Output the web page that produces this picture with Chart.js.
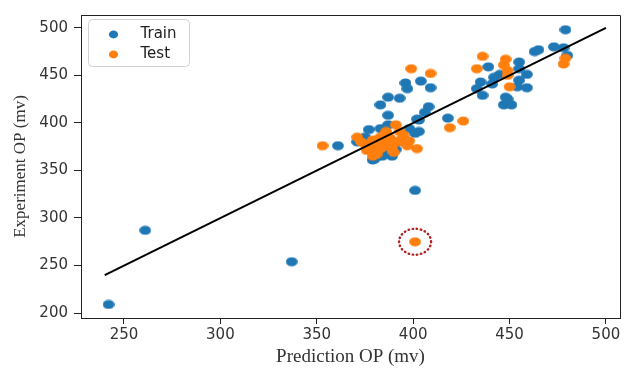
<!DOCTYPE html>
<html><head><meta charset="utf-8">
<script src="https://cdn.jsdelivr.net/npm/chart.js@4/dist/chart.umd.min.js"></script>
<style>html,body{margin:0;padding:0;background:#fff}#wrap{width:626px;height:369px;position:relative}</style>
</head><body><div id="wrap"><canvas id="c"></canvas></div>
<script>
// ---- data ----
const seriesNames = ['Train', 'Test'];
const trainX = [242,261,337,401,361,396,397,387,393,383,404,409,408,406,418,403,402,387,377,383,387,398,401,371,379,384,391,395,380,389,403,379,384,375,390,386,381,
                479,473,463,465,478,480,455,439,455,445,459,442,435,441,455,433,436,454,459,448,447,451,449];
const trainY = [209,287,254,329,376,442,436,427,426,419,444,437,417,411,405,403,404,408,393,394,398,394,389,380,370,370,372,380,362,365,391,361,365,385,378,383,376,
                498,480,475,477,479,471,464,459,457,451,451,448,443,441,445,436,429,438,437,427,419,419,425];
const testX = [353,371,373,377,379,382,385,388,389,392,395,397,391,402,379,381,393,386,375,
               401,399,409,419,426,436,433,448,447,449,449,450,479,478,
               383,387,380,394,398,376,390,384];
const testY = [376,385,380,375,382,372,378,384,374,380,387,376,398,373,365,367,391,391,378,
               275,457,452,395,402,470,457,467,461,455,450,438,468,462,
               385,380,378,383,381,371,369,374];
const highlightIndex = 19;            // circled Test point
const refLine = [240, 500];           // y = x reference line ends
const xTicks = [250, 300, 350, 400, 450, 500];
const yTicks = [200, 250, 300, 350, 400, 450, 500];
const xTitle = 'Prediction OP (mv)';
const yTitle = 'Experiment OP (mv)';

// ---- styles ----
const BLUE = '#1f77b4', ORANGE = '#ff7f0e', AXIS = '#222', TXT = '#333';
function dot(color) {
  const c = document.createElement('canvas');
  c.width = 12; c.height = 10;
  const g = c.getContext('2d');
  g.fillStyle = color;
  g.beginPath(); g.ellipse(6, 5, 5.9, 4.6, 0, 0, Math.PI * 2); g.fill();
  return c;
}
const blueDot = dot(BLUE), orangeDot = dot(ORANGE);

const toPts = (xs, ys) => xs.map((x, i) => ({x, y: ys[i]}));

const framePlugin = {
  id: 'frame',
  beforeDatasetsDraw(chart) {
    const {ctx, chartArea: a} = chart;
    ctx.save();
    ctx.strokeStyle = AXIS; ctx.lineWidth = 1;
    ctx.beginPath();
    ctx.moveTo(Math.round(a.left) + 0.5, Math.round(a.top) + 0.5);
    ctx.lineTo(Math.round(a.right) + 0.5, Math.round(a.top) + 0.5);
    ctx.lineTo(Math.round(a.right) + 0.5, Math.round(a.bottom) + 0.5);
    ctx.stroke();
    ctx.restore();
  }
};
const highlightPlugin = {
  id: 'highlight',
  afterDatasetsDraw(chart) {
    const {ctx, scales} = chart;
    const cx = scales.x.getPixelForValue(testX[highlightIndex]);
    const cy = scales.y.getPixelForValue(testY[highlightIndex]);
    ctx.save();
    ctx.strokeStyle = '#b22222'; ctx.lineWidth = 2.4; ctx.lineCap = 'round';
    ctx.setLineDash([0.5, 3.6]);
    ctx.beginPath(); ctx.ellipse(cx, cy, 16, 13, 0, 0, Math.PI * 2); ctx.stroke();
    ctx.restore();
  }
};
const legendPlugin = {
  id: 'boxLegend',
  afterDraw(chart) {
    const {ctx, chartArea: a} = chart;
    const x0 = a.left + 7.5, y0 = a.top + 4.5, w = 101, h = 47, r = 4;
    ctx.save();
    ctx.fillStyle = 'rgba(255,255,255,0.85)'; ctx.strokeStyle = '#d0d0d0'; ctx.lineWidth = 1;
    ctx.beginPath(); ctx.roundRect(x0, y0, w, h, r); ctx.fill(); ctx.stroke();
    const cols = [BLUE, ORANGE];
    ctx.font = '15px "DejaVu Sans"'; ctx.textBaseline = 'middle'; ctx.fillStyle = '#222';
    seriesNames.forEach((n, i) => {
      const yy = y0 + 15 + i * 20;
      ctx.fillStyle = cols[i];
      ctx.beginPath(); ctx.ellipse(x0 + 25, yy, 4.6, 3.9, 0, 0, Math.PI * 2); ctx.fill();
      ctx.fillStyle = '#222';
      ctx.fillText(n, x0 + 52, yy);
    });
    ctx.restore();
  }
};

new Chart(document.getElementById('c'), {
  type: 'scatter',
  data: {
    datasets: [
      {type: 'line', label: 'fit', data: refLine.map(v => ({x: v, y: v})), borderColor: '#000', borderWidth: 2,
       pointRadius: 0, fill: false, order: 0},
      {label: seriesNames[1], data: toPts(testX, testY), pointStyle: orangeDot, pointRadius: 5, backgroundColor: ORANGE, order: 1},
      {label: seriesNames[0], data: toPts(trainX, trainY), pointStyle: blueDot, pointRadius: 5, backgroundColor: BLUE, order: 2}
    ]
  },
  options: {
    responsive: true, maintainAspectRatio: false, animation: false, devicePixelRatio: 1,
    layout: {padding: {top: 12, right: 6, left: 0, bottom: 0}},
    plugins: {legend: {display: false}, tooltip: {enabled: false}},
    scales: {
      x: {
        type: 'linear', min: 227.7, max: 507.3,
        afterBuildTicks: s => { s.ticks = xTicks.map(v => ({value: v})); },
        afterFit: s => { s.height = 51; },
        grid: {drawOnChartArea: false, drawTicks: true, tickLength: 6, tickColor: AXIS, color: AXIS},
        border: {display: true, color: AXIS, width: 1},
        ticks: {font: {family: 'DejaVu Sans', size: 15}, color: TXT, padding: 2, maxRotation: 0, autoSkip: false},
        title: {display: true, text: xTitle, font: {family: 'Liberation Serif', size: 19}, color: TXT, padding: {top: 0, bottom: 1}}
      },
      y: {
        type: 'linear', min: 194.8, max: 513.5,
        afterBuildTicks: s => { s.ticks = yTicks.map(v => ({value: v})); },
        afterFit: s => { s.width = 81; },
        grid: {drawOnChartArea: false, drawTicks: true, tickLength: 7, tickColor: AXIS, color: AXIS},
        border: {display: true, color: AXIS, width: 1},
        ticks: {font: {family: 'DejaVu Sans', size: 15}, color: TXT, padding: 6, autoSkip: false},
        title: {display: true, text: yTitle, font: {family: 'Liberation Serif', size: 17}, color: TXT, padding: {top: 10, bottom: 0}}
      }
    }
  },
  plugins: [framePlugin, highlightPlugin, legendPlugin]
});
</script>
</body></html>
